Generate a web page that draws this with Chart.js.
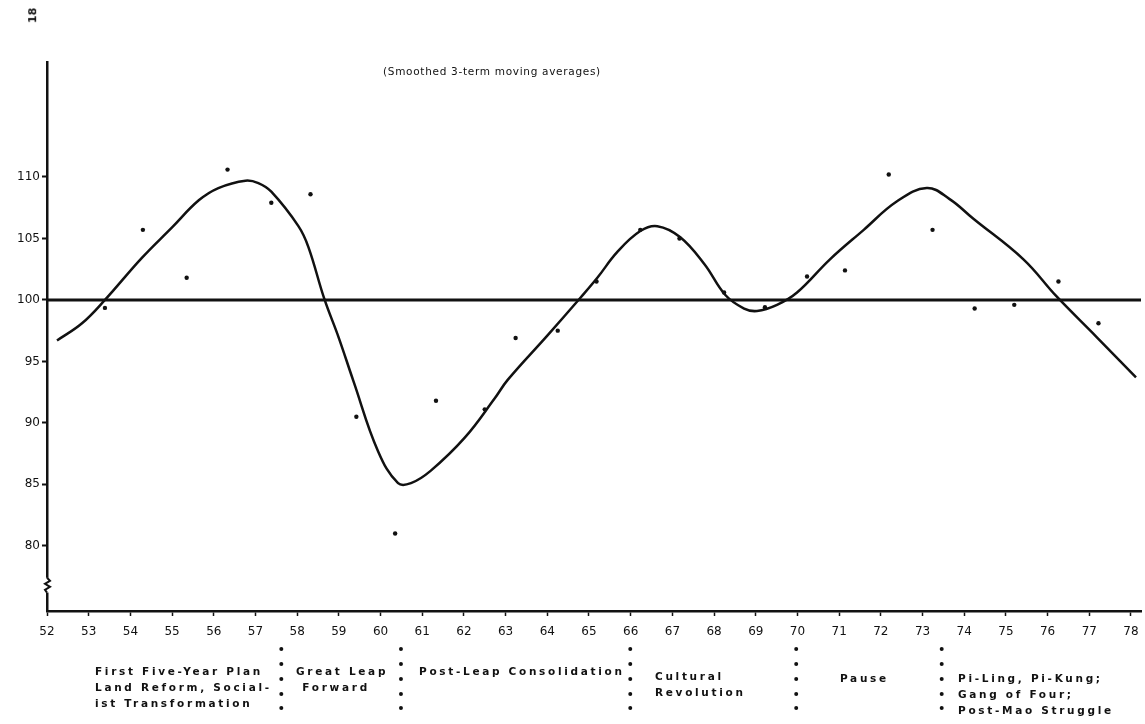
<!DOCTYPE html>
<html>
<head>
<meta charset="utf-8">
<script src="https://cdn.jsdelivr.net/npm/chart.js@4"></script>
<style>
    body { margin: 0; background: #fff; }
    #wrap { position: relative; width: 1145px; height: 724px; }
    #chart { position: absolute; left: 0; top: 0; }
    .txt { position: absolute; font-family: "DejaVu Sans", sans-serif; color: #111; white-space: nowrap; }
    .period { font-size: 10.5px; font-weight: bold; letter-spacing: 2.7px; line-height: 16px; }
    .title { font-size: 10.5px; letter-spacing: 0.7px; }
</style>
</head>
<body>
<div id="wrap">
    <canvas id="chart" width="1145" height="724"></canvas>
    <div class="txt" style="left:25px; top:9px; font-size:11px; font-weight:bold; transform:rotate(-90deg);">18</div>
    <div class="txt title" style="left:383px; top:65px;">(Smoothed 3-term moving averages)</div>
    <div class="txt period" style="left:95px; top:663px;">First Five-Year Plan<br>Land Reform, Social-<br>ist Transformation</div>
    <div class="txt period" style="left:296px; top:663px;">Great Leap<br>&nbsp;Forward</div>
    <div class="txt period" style="left:419px; top:663px;">Post-Leap Consolidation</div>
    <div class="txt period" style="left:655px; top:668px;">Cultural<br>Revolution</div>
    <div class="txt period" style="left:840px; top:670px;">Pause</div>
    <div class="txt period" style="left:958px; top:670px;">Pi-Ling, Pi-Kung;<br>Gang of Four;<br>Post-Mao Struggle</div>
</div>
<script>
// years on the x axis (tick labels)
const xTicks = [52, 53, 54, 55, 56, 57, 58, 59, 60, 61, 62, 63, 64, 65, 66, 67, 68, 69, 70, 71, 72, 73, 74, 75, 76, 77, 78];
const yTicks = [80, 85, 90, 95, 100, 105, 110];

// annual index values (dots)
const dotYears = [53.39, 54.30, 55.35, 56.33, 57.38, 58.32, 59.42, 60.35, 61.33, 62.50, 63.24, 64.25, 65.18,
    66.23, 67.17, 68.24, 69.22, 70.23, 71.14, 72.19, 73.24, 74.25, 75.20, 76.26, 77.22];
const dotValues = [99.35, 105.7, 101.8, 110.6, 107.9, 108.6, 90.5, 81.0, 91.8, 91.1, 96.9, 97.5, 101.5,
    105.7, 105.0, 100.6, 99.4, 101.9, 102.4, 110.2, 105.7, 99.3, 99.6, 101.5, 98.1];

// smoothed 3-term moving average curve
const curveYears = [52.24, 52.84, 53.39, 54.27, 55.0, 55.64, 56.11, 56.76, 57.07, 57.38, 58.03, 58.27, 58.65,
    58.99, 59.35, 59.94, 60.42, 60.73, 61.2, 62.02, 62.74, 63.05, 64.0, 64.8, 65.2, 65.68, 66.23, 66.64,
    67.19, 67.77, 68.27, 68.72, 69.03, 69.51, 69.99, 70.78, 71.59, 72.38, 73.1, 73.65, 74.22, 75.42,
    76.21, 77.17, 78.12];
const curveValues = [96.7, 98.1, 100.0, 103.4, 105.9, 108.1, 109.1, 109.7, 109.5, 108.8, 106.0, 104.3, 100.1,
    97.0, 93.4, 87.7, 85.1, 85.1, 86.1, 88.8, 92.0, 93.5, 97.1, 100.2, 101.8, 103.9, 105.6, 106.0,
    105.1, 102.9, 100.4, 99.3, 99.1, 99.6, 100.6, 103.3, 105.7, 108.0, 109.1, 108.2, 106.6, 103.3,
    100.3, 97.0, 93.7];

const baseline = 100;
// boundaries between political periods (dotted separators under the axis)
const periodBounds = [57.62, 60.49, 65.99, 69.97, 73.46];

const X_MIN = 52, X_MAX = 78.24, Y_MIN = 74.7, Y_MAX = 119.35;

const separators = {
    id: 'separators',
    afterDraw(chart) {
        const ctx = chart.ctx;
        const xs = chart.scales.x;
        const ys = chart.scales.y;
        ctx.save();
        ctx.fillStyle = '#111';
        periodBounds.forEach(b => {
            const px = xs.getPixelForValue(b);
            [649, 664, 679, 694, 708].forEach(py => {
                ctx.beginPath();
                ctx.arc(px, py, 2, 0, Math.PI * 2);
                ctx.fill();
            });
        });
        // axis break on the y axis
        const x0 = ys.right;
        const yTop = ys.getPixelForValue(77.4), yBot = ys.getPixelForValue(76.2);
        ctx.fillStyle = '#fff';
        ctx.fillRect(x0 - 3, yTop, 6, yBot - yTop);
        ctx.strokeStyle = '#111';
        ctx.lineWidth = 2;
        ctx.beginPath();
        ctx.moveTo(x0, yTop);
        ctx.lineTo(x0 + 3, yTop + 3);
        ctx.lineTo(x0 - 2, yTop + 6);
        ctx.lineTo(x0 + 3, yTop + 9);
        ctx.lineTo(x0 - 2, yTop + 12);
        ctx.lineTo(x0, yBot);
        ctx.stroke();
        ctx.restore();
    }
};

new Chart(document.getElementById('chart'), {
    type: 'line',
    data: {
        datasets: [
            {
                data: curveYears.map((x, i) => ({ x, y: curveValues[i] })),
                borderColor: '#111',
                borderWidth: 2.5,
                pointRadius: 0,
                tension: 0.4,
                fill: false
            },
            {
                data: [{ x: X_MIN, y: baseline }, { x: X_MAX, y: baseline }],
                borderColor: '#111',
                borderWidth: 3,
                pointRadius: 0,
                tension: 0
            },
            {
                type: 'scatter',
                data: dotYears.map((x, i) => ({ x, y: dotValues[i] })),
                backgroundColor: '#111',
                borderWidth: 0,
                pointRadius: 2.2
            }
        ]
    },
    options: {
        responsive: false,
        animation: false,
        layout: { padding: { top: 62, right: 0, left: 0, bottom: 0 } },
        plugins: { legend: { display: false }, tooltip: { enabled: false } },
        scales: {
            x: {
                type: 'linear',
                min: X_MIN,
                max: X_MAX,
                afterBuildTicks: s => { s.ticks = xTicks.map(v => ({ value: v })); },
                afterFit: s => { s.height = 113; s.paddingRight = 0; },
                border: { color: '#111', width: 2.5 },
                grid: { drawOnChartArea: false, tickLength: 5, tickColor: '#111', tickWidth: 1.5 },
                ticks: {
                    color: '#111',
                    padding: 9,
                    maxRotation: 0,
                    autoSkip: false,
                    font: { family: 'DejaVu Sans', size: 12 },
                    callback: v => String(v)
                }
            },
            y: {
                type: 'linear',
                min: Y_MIN,
                max: Y_MAX,
                afterBuildTicks: s => { s.ticks = yTicks.map(v => ({ value: v })); },
                afterFit: s => { s.width = 47; },
                border: { color: '#111', width: 2.5 },
                grid: { drawOnChartArea: false, tickLength: 5, tickColor: '#111', tickWidth: 2 },
                ticks: {
                    color: '#111',
                    padding: 2,
                    font: { family: 'DejaVu Sans', size: 12 },
                    callback: v => String(v)
                }
            }
        }
    },
    plugins: [separators]
});
</script>
</body>
</html>
